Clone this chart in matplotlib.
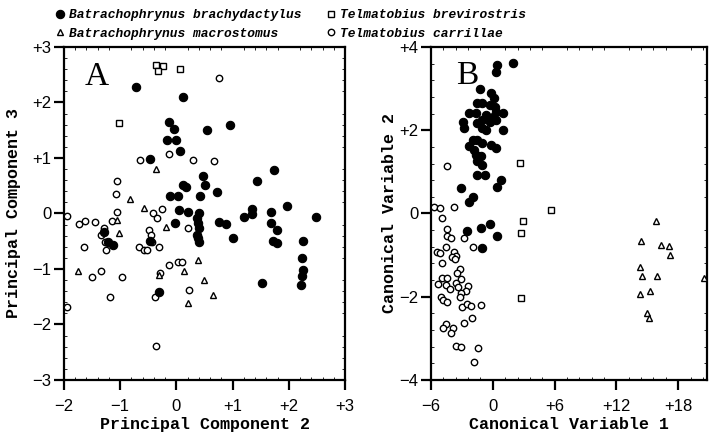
import matplotlib
matplotlib.use("Agg")
import matplotlib.pyplot as plt
from matplotlib.lines import Line2D
from matplotlib.ticker import FuncFormatter, MultipleLocator

# ---------------- data: panel A (PC2 vs PC3) ----------------
a_brachy_x = [-0.72, 0.12, -0.13, -0.04, 0.54, 0.95, -0.17, 0.00, 0.07, -0.47, 0.48, 0.12, 0.17, 0.50,
              -0.12, 0.02, 0.42, 0.72, 1.44, 1.73, 1.97, 1.34, 1.35, 1.21, 1.68, 2.48, 0.76, 0.89, 1.68,
              1.79, 1.01, 1.71, 1.79, 2.25, 2.24, 2.26, 2.24, 2.21, 1.53, 0.04, 0.21, 0.40, 0.36, 0.39,
              0.40, -0.02, 0.36, 0.39, 0.40, -0.31, -1.28, -1.22, -1.13, -0.47]
a_brachy_y = [2.28, 2.10, 1.65, 1.52, 1.50, 1.59, 1.32, 1.32, 1.13, 0.99, 0.68, 0.51, 0.48, 0.51,
              0.32, 0.32, 0.32, 0.38, 0.59, 0.78, 0.14, 0.09, -0.01, -0.06, 0.03, -0.06, -0.16, -0.19, -0.18,
              -0.30, -0.45, -0.49, -0.53, -0.49, -0.80, -1.02, -1.13, -1.28, -1.25, 0.06, 0.03, 0.00, -0.09, -0.18,
              -0.27, -0.18, -0.39, -0.45, -0.51, -1.41, -0.33, -0.51, -0.57, -0.50]
a_macro_x = [-0.36, -0.83, -0.57, -0.18, -1.02, -1.05, -1.75, 0.39, 0.14, -0.31, 0.49, 0.65, 0.21]
a_macro_y = [0.81, 0.27, 0.10, -0.25, -0.35, -0.12, -1.04, -0.84, -1.03, -1.11, -1.20, -1.46, -1.61]
a_brevi_x = [-0.37, -0.23, -0.33, 0.07, -1.02]
a_brevi_y = [2.68, 2.66, 2.57, 2.60, 1.63]
a_carr_x = [0.76, -0.65, -0.14, 0.30, 0.67, -1.05, -1.07, -1.06, -1.94, -1.73, -1.63, -1.44, -1.14, -0.41,
            -0.35, -0.25, -0.48, 0.20, -1.28, -1.35, -1.64, -1.27, -1.26, -0.66, -0.57, -0.52, -0.45, -0.31,
            -0.14, 0.02, 0.10, -1.35, -1.50, -0.97, -0.29, 0.23, -0.38, -1.18, -1.95, -0.36, -0.43]
a_carr_y = [2.44, 0.96, 1.07, 0.96, 0.95, 0.59, 0.35, 0.03, -0.05, -0.19, -0.14, -0.15, -0.13, 0.01,
            -0.09, 0.08, -0.29, -0.27, -0.27, -0.39, -0.60, -0.51, -0.66, -0.60, -0.66, -0.66, -0.39, -0.60,
            -0.93, -0.87, -0.87, -1.04, -1.14, -1.15, -1.07, -1.38, -1.51, -1.50, -1.68, -2.39, -0.51]

# ---------------- data: panel B (CV1 vs CV2) ----------------
b_brachy_x = [0.4, 0.3, 2.0, -1.2, -0.2, 0.1, -1.5, -1.0, -0.3, 0.2, -2.3, -1.6, 0.3, 1.0, -0.7, 0.0,
              -1.0, -0.3, 0.3, -2.9, -2.8, -1.5, -1.0, -0.7, 1.0, -1.9, -1.5, -1.0, -0.2, 0.3, -2.3, -1.8,
              -1.6, -1.1, -1.5, -1.0, -1.5, -0.8, 0.8, 0.4, -3.1, -1.9, -2.3, -2.5, -1.1, -0.3, 0.4, -1.0]
b_brachy_y = [3.57, 3.39, 3.61, 2.99, 2.90, 2.77, 2.65, 2.65, 2.61, 2.57, 2.42, 2.42, 2.45, 2.42, 2.37, 2.33,
              2.25, 2.21, 2.25, 2.21, 2.05, 2.17, 2.05, 2.01, 2.01, 1.77, 1.77, 1.69, 1.65, 1.57, 1.61, 1.53,
              1.41, 1.37, 1.25, 1.17, 0.93, 0.93, 0.81, 0.64, 0.61, 0.40, 0.28, -0.41, -0.36, -0.26, -0.54, -0.84]
b_macro_x = [15.8, 14.4, 16.3, 17.1, 17.2, 14.3, 14.5, 15.9, 20.5, 14.3, 15.3, 15.0, 15.2]
b_macro_y = [-0.17, -0.65, -0.76, -0.77, -1.00, -1.29, -1.50, -1.50, -1.54, -1.94, -1.86, -2.40, -2.52]
b_brevi_x = [2.6, 5.7, 2.9, 2.7, 2.7]
b_brevi_y = [1.22, 0.08, -0.19, -0.47, -2.04]
b_carr_x = [-4.4, -5.7, -5.1, -3.8, -4.9, -4.4, -4.4, -4.1, -2.8, -1.9, -4.5, -5.4, -5.1, -3.8, -3.6, -4.0,
            -3.7, -4.9, -3.2, -3.5, -4.9, -4.4, -3.1, -5.3, -4.5, -3.6, -3.4, -2.4, -2.6, -4.2, -3.1, -3.2,
            -5.0, -4.8, -4.4, -3.0, -2.5, -2.1, -1.1, -2.0, -2.8, -4.5, -4.8, -3.9, -4.1, -3.6, -3.1, -1.4, -1.8]
b_carr_y = [1.13, 0.15, 0.13, 0.16, -0.12, -0.38, -0.54, -0.60, -0.58, -0.80, -0.80, -0.92, -0.94, -0.92,
            -1.02, -1.05, -1.10, -1.18, -1.34, -1.44, -1.56, -1.56, -1.58, -1.69, -1.72, -1.66, -1.77, -1.74,
            -1.86, -1.82, -1.92, -2.01, -2.00, -2.08, -2.12, -2.25, -2.18, -2.22, -2.20, -2.50, -2.64, -2.66,
            -2.74, -2.74, -2.87, -3.19, -3.20, -3.23, -3.56]

species = ["Batrachophrynus brachydactylus", "Batrachophrynus macrostomus",
           "Telmatobius brevirostris", "Telmatobius carrillae"]

a_xlabel = "Principal Component 2"
a_ylabel = "Principal Component 3"
b_xlabel = "Canonical Variable 1"
b_ylabel = "Canonical Variable 2"

# ---------------- styling ----------------
mono = ["Liberation Mono", "DejaVu Sans Mono"]
tickfont = "Liberation Sans"

styles = [
    dict(marker="o", mfc="black", mec="black", ms=6.0, mew=0.8),
    dict(marker="^", mfc="white", mec="black", ms=4.6, mew=1.0),
    dict(marker="s", mfc="white", mec="black", ms=4.0, mew=1.0),
    dict(marker="o", mfc="white", mec="black", ms=4.6, mew=1.0),
]


def signed(v, pos):
    if abs(v) < 1e-9:
        return "0"
    s = "%g" % abs(v)
    return ("+" if v > 0 else "\u2212") + s


fig = plt.figure(figsize=(7.1, 4.38), dpi=100)
W, H = 710.0, 438.0
axA = fig.add_axes([64 / W, 1 - 380 / H, (345 - 64) / W, (380 - 47) / H])
axB = fig.add_axes([431 / W, 1 - 380 / H, (707 - 431) / W, (380 - 47) / H])

dataA = [(a_brachy_x, a_brachy_y), (a_macro_x, a_macro_y), (a_brevi_x, a_brevi_y), (a_carr_x, a_carr_y)]
dataB = [(b_brachy_x, b_brachy_y), (b_macro_x, b_macro_y), (b_brevi_x, b_brevi_y), (b_carr_x, b_carr_y)]

order = [3, 1, 2, 0]
for ax, data in ((axA, dataA), (axB, dataB)):
    for i in order:
        x, y = data[i]
        ax.plot(x, y, linestyle="none", **styles[i], zorder=3 + (i == 0))

axA.set_xlim(-2, 3)
axA.set_ylim(-3, 3)
axA.xaxis.set_major_locator(MultipleLocator(1))
axA.yaxis.set_major_locator(MultipleLocator(1))
axA.xaxis.set_minor_locator(MultipleLocator(0.2))
axA.yaxis.set_minor_locator(MultipleLocator(0.2))

axB.set_xlim(-6, 20.8)
axB.set_ylim(-4, 4)
axB.xaxis.set_major_locator(MultipleLocator(6))
axB.yaxis.set_major_locator(MultipleLocator(2))
axB.xaxis.set_minor_locator(MultipleLocator(1.2))
axB.yaxis.set_minor_locator(MultipleLocator(0.4))

for ax in (axA, axB):
    for sp in ax.spines.values():
        sp.set_linewidth(1.6)
    ax.xaxis.set_major_formatter(FuncFormatter(signed))
    ax.yaxis.set_major_formatter(FuncFormatter(signed))
    ax.tick_params(which="major", direction="out", length=7, width=1.6,
                   labelsize=12)
    ax.tick_params(axis="x", which="major", pad=7)
    ax.tick_params(axis="y", which="major", pad=2)
    ax.tick_params(which="minor", direction="in", length=2, width=0.6,
                   top=True, right=True)
    for lab in ax.get_xticklabels() + ax.get_yticklabels():
        lab.set_family(tickfont)

axA.set_xlabel(a_xlabel, family=mono, fontsize=12, fontweight="bold")
axA.set_ylabel(a_ylabel, family=mono, fontsize=12, fontweight="bold", va="center")
axB.set_xlabel(b_xlabel, family=mono, fontsize=12, fontweight="bold")
axB.set_ylabel(b_ylabel, family=mono, fontsize=12, fontweight="bold", va="center")
axA.xaxis.set_label_coords(0.5, (380 - 417) / 333)
axB.xaxis.set_label_coords(0.5, (380 - 417) / 333)
axA.yaxis.set_label_coords((14 - 64) / 281, 0.5)
axB.yaxis.set_label_coords((390 - 431) / 276, 0.5)

axA.text(0.118, 0.91, "A", transform=axA.transAxes, family="Liberation Serif",
         fontsize=24, ha="center", va="center")
axB.text(0.13, 0.915, "B", transform=axB.transAxes, family="Liberation Serif",
         fontsize=24, ha="center", va="center")

handles = [Line2D([], [], linestyle="none", **styles[i]) for i in range(4)]
fig.legend(handles, species, loc="upper left", bbox_to_anchor=(48 / W, 1 - 4 / H),
           ncol=2, frameon=False, handletextpad=0.2, columnspacing=1.8,
           labelspacing=0.5, handlelength=1.0, borderaxespad=0,
           prop=dict(family=mono, style="italic", size=9.3, weight="bold"))

fig.savefig("out.png", dpi=100, facecolor="white")
